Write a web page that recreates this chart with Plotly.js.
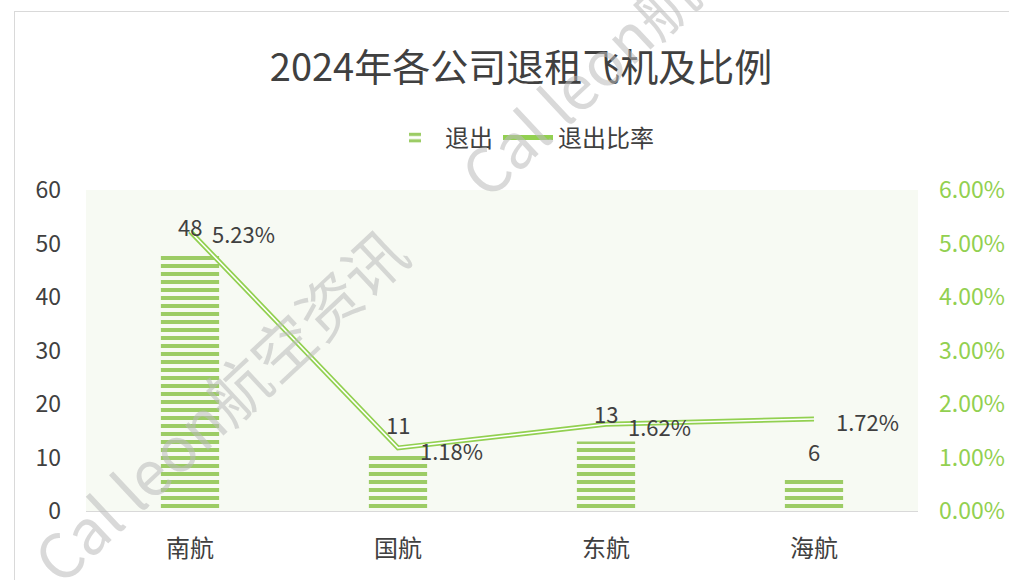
<!DOCTYPE html>
<html>
<head>
<meta charset="utf-8">
<script src="https://cdn.plot.ly/plotly-3.0.1.min.js"></script>
<style>
  html, body { margin: 0; padding: 0; background: #fff; overflow: hidden; }
  #frame { position: absolute; left: 14px; top: 11px; width: 1100px; height: 700px; border: 1px solid #d9d9d9; }
  #chart { position: absolute; left: 0; top: 0; width: 1009px; height: 580px; }
</style>
</head>
<body>
<div id="frame"></div>
<div id="chart"></div>
<script>
// Exits per airline (bars, left axis) and exit ratio (double line, right axis).
const airlines = ["南航", "国航", "东航", "海航"];
const exits = [48, 11, 13, 6];
const exitRatio = [0.0523, 0.0118, 0.0162, 0.0172];
const watermark = "Cal leon航空资讯";

const GREEN_BAR = "#9ccc65";
const GREEN_LINE = "#92d050";
const TEXT = "#404040";
const FONT = "'Noto Sans CJK SC', 'Noto Sans', sans-serif";

const traces = [
  {
    x: airlines, y: exits, type: "bar", name: "退出",
    width: 0.28,
    marker: {
      color: GREEN_BAR,
      line: { width: 0 },
      pattern: { shape: "-", size: 8, solidity: 0.5, fgcolor: GREEN_BAR },
    },
    hoverinfo: "x+y",
  },
  {
    x: airlines, y: exitRatio, type: "scatter", mode: "lines", name: "退出比率",
    yaxis: "y2",
    line: { color: GREEN_LINE, width: 5 },
  },
  {
    // white core to get the double-line look
    x: airlines, y: exitRatio, type: "scatter", mode: "lines", name: "退出比率",
    yaxis: "y2", showlegend: false, hoverinfo: "skip",
    line: { color: "#ffffff", width: 1.5 },
  },
];

const M = { l: 86, r: 91, t: 190, b: 69 };
const PW = 1009 - M.l - M.r, PH = 580 - M.t - M.b;

const annotations = [];
airlines.forEach((a, i) => {
  annotations.push({
    x: a, y: exits[i], xref: "x", yref: "y", yshift: 28, showarrow: false,
    text: String(exits[i]), font: { size: 22, color: TEXT, family: FONT },
  });
  annotations.push({
    x: a, y: exitRatio[i], xref: "x", yref: "y2", xanchor: "left", xshift: 20, yshift: -2,
    showarrow: false,
    text: (exitRatio[i] * 100).toFixed(2) + "%", font: { size: 22, color: TEXT, family: FONT },
  });
});
// faint diagonal watermark, centres given in page pixels
for (const [cx, cy] of [[218, 404], [645, 18]]) {
  annotations.push({
    x: (cx - M.l) / PW, y: 1 - (cy - M.t) / PH, xref: "paper", yref: "paper",
    xanchor: "center", yanchor: "middle",
    showarrow: false, textangle: -43, text: watermark,
    font: { size: 62, color: "rgba(185,185,185,0.55)", family: FONT },
  });
}

const layout = {
  width: 1009, height: 580,
  margin: M,
  paper_bgcolor: "rgba(0,0,0,0)",
  plot_bgcolor: "#f7faf3",
  font: { family: FONT, color: TEXT },
  title: {
    text: "2024年各公司退租飞机及比例",
    font: { size: 38, color: TEXT, family: FONT },
    x: 521 / 1009, xanchor: "center", xref: "container",
    y: 1 - 68 / 580, yanchor: "middle", yref: "container",
  },
  showlegend: true,
  legend: {
    orientation: "h", x: 522 / 1009, xanchor: "center", xref: "container",
    y: 1 - 138 / 580, yanchor: "middle", yref: "container",
    font: { size: 24, color: TEXT, family: FONT },
    itemwidth: 50, bgcolor: "rgba(0,0,0,0)",
  },
  xaxis: {
    type: "category", showgrid: false, zeroline: false,
    showline: true, linecolor: "#d9d9d9", linewidth: 1,
    ticks: "", tickfont: { size: 24, color: TEXT }, ticklabelstandoff: 16,
  },
  yaxis: {
    range: [0, 60], dtick: 10, showgrid: false, zeroline: false, showline: false,
    ticks: "", tickfont: { size: 23, color: TEXT }, ticklabelstandoff: 24,
  },
  yaxis2: {
    overlaying: "y", side: "right", range: [0, 0.06], dtick: 0.01, tickformat: ".2%",
    showgrid: false, zeroline: false, showline: false,
    ticks: "", tickfont: { size: 23, color: GREEN_LINE }, ticklabelstandoff: 20,
  },
  annotations,
};

Plotly.newPlot("chart", traces, layout, { displayModeBar: false, staticPlot: true });
</script>
</body>
</html>
